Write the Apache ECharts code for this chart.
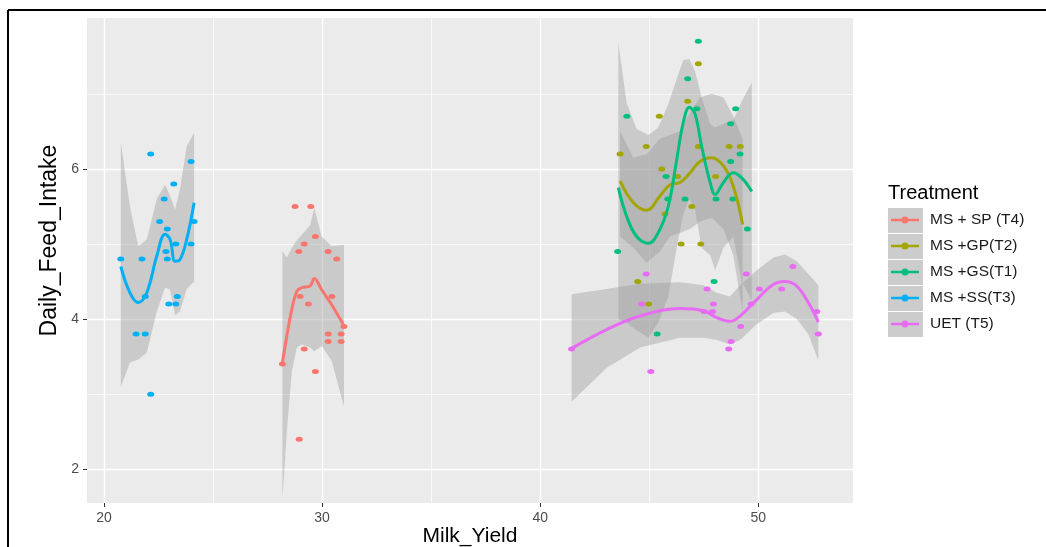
<!DOCTYPE html>
<html>
<head>
<meta charset="utf-8">
<script src="https://cdn.jsdelivr.net/npm/echarts@6/dist/echarts.min.js"></script>
<style>
  html, body { margin: 0; padding: 0; background: #fff; }
  #chart { width: 1046px; height: 547px; }
</style>
</head>
<body>
<div id="chart"></div>
<script>
// axis ticks
const xMajor = [20, 30, 40, 50];
const xMinor = [25, 35, 45];
const yMajor = [2, 4, 6];
const yMinor = [3, 5, 7];

const groups = ['MS + SP (T4)', 'MS +GP(T2)', 'MS +GS(T1)', 'MS +SS(T3)', 'UET (T5)'];
const colors = ['#F8766D', '#A3A500', '#00BF7D', '#00B0F6', '#E76BF3'];

// raw points [Milk_Yield, Daily_Feed_Intake]
const ptsT4 = [[28.76,5.5],[29.48,5.5],[29.69,5.1],[29.18,5.0],[28.93,4.9],[30.28,4.9],[30.67,4.8],
  [28.99,4.3],[30.45,4.3],[29.37,4.2],[31.0,3.9],[30.28,3.8],[30.87,3.8],[30.28,3.7],[30.87,3.7],
  [29.18,3.6],[28.18,3.4],[29.69,3.3],[28.95,2.4]];
const ptsT2 = [[47.25,7.4],[46.76,6.9],[45.46,6.7],[44.86,6.3],[43.66,6.2],[47.25,6.3],[48.66,6.3],
  [49.17,6.3],[45.57,6.0],[46.3,5.9],[48.04,5.9],[46.95,5.5],[45.72,5.4],[46.46,5.0],[47.36,5.0],
  [44.47,4.5],[44.97,4.2]];
const ptsT1 = [[47.25,7.7],[46.76,7.2],[43.97,6.7],[48.96,6.8],[48.73,6.6],[47.18,6.8],[49.16,6.2],
  [48.73,6.1],[45.77,5.9],[46.64,5.6],[45.85,5.6],[48.06,5.6],[48.83,5.6],[49.5,5.2],[43.55,4.9],
  [47.97,4.5],[45.36,3.8]];
const ptsT3 = [[22.14,6.2],[23.99,6.1],[23.2,5.8],[22.76,5.6],[22.55,5.3],[22.9,5.2],[24.13,5.3],
  [20.77,4.8],[21.74,4.8],[23.29,5.0],[23.99,5.0],[22.84,4.9],[22.9,4.8],[21.89,4.3],[23.36,4.3],
  [22.97,4.2],[23.29,4.2],[21.47,3.8],[21.89,3.8],[22.14,3.0]];
const ptsT5 = [[41.44,3.6],[44.86,4.6],[44.65,4.2],[45.07,3.3],[47.65,4.4],[47.94,4.2],[47.52,4.1],
  [47.9,4.1],[49.45,4.6],[50.05,4.4],[51.07,4.4],[51.58,4.7],[49.67,4.2],[49.19,3.9],[48.75,3.7],
  [48.64,3.6],[52.68,4.1],[52.75,3.8]];

// loess fits: x, fit, lower, upper
const fitXT4 = [28.18,28.38,28.61,28.84,29.06,29.45,29.64,29.98,30.44,31.0];
const fitT4  = [3.42,3.77,4.13,4.37,4.42,4.44,4.54,4.39,4.19,3.91];
const loT4   = [1.6,2.5,3.3,3.62,3.66,3.62,3.57,3.64,3.44,2.84];
const hiT4   = [4.9,4.82,4.95,5.05,5.12,5.25,5.48,5.1,4.97,4.99];

const fitXT2 = [43.66,44.27,44.88,45.49,45.95,46.41,46.87,47.32,47.86,48.4,48.85,49.28];
const fitT2  = [5.84,5.55,5.45,5.64,5.79,5.82,5.95,6.1,6.15,6.04,5.77,5.26];
const loT2   = [5.1,4.95,4.75,4.9,5.1,5.15,5.2,5.3,5.35,5.2,4.85,4.1];
const hiT2   = [6.5,6.15,6.2,6.4,6.45,6.5,6.75,6.95,7.0,6.95,6.7,6.4];

const fitXT1 = [43.58,43.96,44.42,44.96,45.41,45.87,46.26,46.56,46.84,47.1,47.4,47.79,48.02,48.4,48.85,49.24,49.7];
const fitT1  = [5.75,5.37,5.1,5.01,5.15,5.5,6.13,6.62,6.82,6.73,6.3,5.82,5.66,5.82,5.95,5.88,5.7];
const loT1   = [4.0,3.95,3.85,3.75,3.95,4.3,4.95,5.4,5.6,5.45,4.95,4.85,4.65,4.95,5.1,4.5,4.25];
const hiT1   = [7.68,6.88,6.53,6.45,6.55,6.86,7.2,7.45,7.46,7.3,6.95,6.6,6.55,6.6,6.65,6.9,7.15];

const fitXT3 = [20.77,21.19,21.57,21.96,22.42,22.8,23.03,23.26,23.48,23.79,24.13];
const fitT3  = [4.7,4.35,4.22,4.35,4.84,5.13,5.06,4.77,4.79,5.06,5.55];
const loT3   = [3.1,3.42,3.46,3.55,4.1,4.42,4.39,4.05,4.1,4.4,4.5];
const hiT3   = [6.35,5.5,4.97,5.06,5.6,5.79,5.64,5.46,5.73,6.3,6.48];

const fitXT5 = [41.44,43.05,44.58,46.41,47.48,48.09,48.7,49.16,49.93,50.69,51.22,51.76,52.29,52.75];
const fitT5  = [3.61,3.86,4.04,4.14,4.11,4.02,3.97,4.04,4.26,4.46,4.5,4.44,4.22,3.96];
const loT5   = [2.9,3.35,3.62,3.75,3.75,3.72,3.66,3.72,3.93,4.08,4.1,4.0,3.8,3.45];
const hiT5   = [4.33,4.4,4.47,4.49,4.45,4.35,4.3,4.45,4.65,4.82,4.86,4.77,4.6,4.45];

const X_MIN = 19.22, X_MAX = 54.34, Y_MIN = 1.55, Y_MAX = 8.01;
const FONT = 'Liberation Sans, Arial, sans-serif';

const pointSets = [ptsT4, ptsT2, ptsT1, ptsT3, ptsT5];
const fits = [
  [fitXT4, fitT4, loT4, hiT4],
  [fitXT2, fitT2, loT2, hiT2],
  [fitXT1, fitT1, loT1, hiT1],
  [fitXT3, fitT3, loT3, hiT3],
  [fitXT5, fitT5, loT5, hiT5]
];

const chart = echarts.init(document.getElementById('chart'), null, { renderer: 'canvas' });

const series = [];
// points are drawn first, ribbons go over them like in ggplot
groups.forEach((g, i) => {
  series.push({
    name: g,
    type: 'scatter',
    data: pointSets[i],
    symbol: 'circle',
    symbolSize: [7, 5],
    itemStyle: { color: colors[i], opacity: 1 },
    silent: true
  });
});
groups.forEach((g, i) => {
  const [xs, fit, lo, hi] = fits[i];
  series.push({
    name: g + ' band',
    type: 'custom',
    silent: true,
    data: [[xs[0], fit[0]]],
    renderItem: (params, api) => {
      const poly = [];
      for (let k = 0; k < xs.length; k++) poly.push(api.coord([xs[k], hi[k]]));
      for (let k = xs.length - 1; k >= 0; k--) poly.push(api.coord([xs[k], lo[k]]));
      return {
        type: 'polygon',
        shape: { points: poly },
        style: { fill: 'rgba(153,153,153,0.4)' }
      };
    }
  });
  series.push({
    name: g,
    type: 'line',
    data: xs.map((x, k) => [x, fit[k]]),
    smooth: 0.4,
    showSymbol: false,
    symbol: 'circle',
    lineStyle: { color: colors[i], width: 3 },
    itemStyle: { color: colors[i] },
    silent: true
  });
});

// grey legend key boxes
const keyBoxes = groups.map((g, i) => ({
  type: 'rect',
  left: 888,
  top: 208 + i * 26,
  shape: { width: 35, height: 25 },
  style: { fill: '#CCCCCC' },
  z: -1
}));

// legend key: short line with a dot in the middle
const keyIcon = 'path://M0,2.25 H28 V4.75 H0 Z M10.5,3.5 A3.5,3.5 0 1 1 17.5,3.5 A3.5,3.5 0 1 1 10.5,3.5 Z';

chart.setOption({
  animation: false,
  backgroundColor: '#fff',
  grid: {
    left: 87, right: 193, top: 18, bottom: 44,
    outerBoundsMode: 'none',
    show: true, backgroundColor: '#EBEBEB', borderWidth: 0
  },
  legend: {
    data: groups,
    icon: keyIcon,
    orient: 'vertical',
    left: 886,
    top: 205,
    itemWidth: 28,
    itemHeight: 7,
    itemGap: 6,
    textStyle: { fontFamily: FONT, fontSize: 15.5, color: '#1A1A1A', lineHeight: 20, padding: [0, 0, 0, 6] },
    selectedMode: false
  },
  graphic: [
    { type: 'text', left: 888, top: 183, style: { text: 'Treatment', font: '20px ' + FONT, fill: '#000' } },
    ...keyBoxes,
    { type: 'line', shape: { x1: 8, y1: 10, x2: 8, y2: 547 }, style: { stroke: '#000', lineWidth: 2 } },
    { type: 'line', shape: { x1: 8, y1: 10, x2: 1046, y2: 10 }, style: { stroke: '#000', lineWidth: 2 } }
  ],
  xAxis: [
    {
      type: 'value', min: X_MIN, max: X_MAX,
      name: 'Milk_Yield', nameLocation: 'middle', nameGap: 23, nameMoveOverlap: false,
      nameTextStyle: { fontFamily: FONT, fontSize: 21, color: '#000' },
      axisLine: { show: false },
      axisTick: { show: true, customValues: xMajor, length: 4, lineStyle: { color: '#333' } },
      axisLabel: { customValues: xMajor, fontFamily: FONT, fontSize: 14, color: '#4D4D4D', margin: 8 },
      splitLine: { show: true, lineStyle: { color: '#FFFFFF', width: 1.4 } }
    },
    {
      type: 'value', min: X_MIN, max: X_MAX, position: 'bottom',
      axisLine: { show: false },
      axisTick: { show: false, customValues: xMinor },
      axisLabel: { show: false, customValues: xMinor },
      splitLine: { show: true, lineStyle: { color: '#FFFFFF', width: 0.7 } }
    }
  ],
  yAxis: [
    {
      type: 'value', min: Y_MIN, max: Y_MAX,
      name: 'Daily_Feed_Intake', nameLocation: 'middle', nameGap: 26, nameMoveOverlap: false,
      nameTextStyle: { fontFamily: FONT, fontSize: 23, color: '#000', padding: [0, 0, 0, 40] },
      axisLine: { show: false },
      axisTick: { show: true, customValues: yMajor, length: 4, lineStyle: { color: '#333' } },
      axisLabel: { customValues: yMajor, fontFamily: FONT, fontSize: 14, color: '#4D4D4D', margin: 8 },
      splitLine: { show: true, lineStyle: { color: '#FFFFFF', width: 1.4 } }
    },
    {
      type: 'value', min: Y_MIN, max: Y_MAX, position: 'left',
      axisLine: { show: false },
      axisTick: { show: false, customValues: yMinor },
      axisLabel: { show: false, customValues: yMinor },
      splitLine: { show: true, lineStyle: { color: '#FFFFFF', width: 0.7 } }
    }
  ],
  series: series
});
</script>
</body>
</html>
